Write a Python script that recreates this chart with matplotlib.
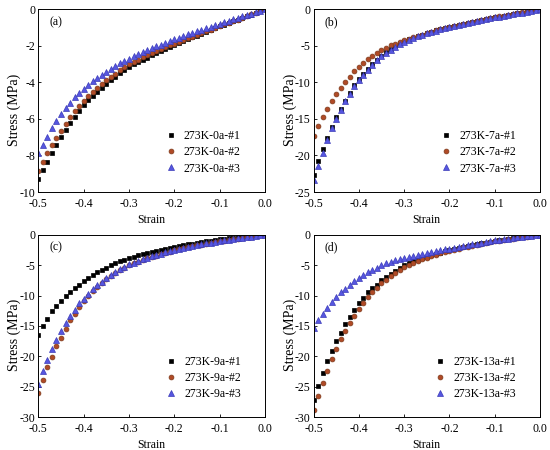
import matplotlib.pyplot as plt
import numpy as np

plt.rcParams['font.family'] = ['Liberation Serif', 'DejaVu Serif']
plt.rcParams['font.size'] = 8.5
plt.rcParams['axes.unicode_minus'] = False

# strain points, -0.50 ... 0.00 every 0.01
strain = np.round(np.arange(-50, 1) / 100.0, 2)

# (a) 273K-0a
a1 = [-9.3, -8.8, -8.34, -7.85, -7.41, -7.01, -6.6, -6.24, -5.88, -5.55,
      -5.26, -4.99, -4.74, -4.51, -4.29, -4.08, -3.88, -3.69, -3.5, -3.32,
      -3.14, -3.01, -2.88, -2.76, -2.64, -2.52, -2.4, -2.28, -2.17, -2.06,
      -1.95, -1.84, -1.74, -1.64, -1.54, -1.44, -1.34, -1.24, -1.14, -1.03,
      -0.93, -0.84, -0.75, -0.66, -0.57, -0.48, -0.38, -0.29, -0.19, -0.1, 0]
a2 = [-8.83, -8.34, -7.88, -7.45, -7.06, -6.66, -6.28, -5.91, -5.59, -5.29,
      -5.0, -4.75, -4.52, -4.3, -4.09, -3.89, -3.7, -3.52, -3.34, -3.17,
      -3.01, -2.88, -2.75, -2.63, -2.52, -2.41, -2.3, -2.19, -2.08, -1.98,
      -1.88, -1.78, -1.68, -1.58, -1.49, -1.39, -1.3, -1.2, -1.11, -1.01,
      -0.92, -0.83, -0.74, -0.65, -0.56, -0.47, -0.37, -0.28, -0.19, -0.09, 0]
a3 = [-7.88, -7.43, -6.97, -6.52, -6.12, -5.75, -5.42, -5.11, -4.82, -4.56,
      -4.38, -4.16, -3.95, -3.76, -3.58, -3.41, -3.25, -3.1, -2.96, -2.83,
      -2.7, -2.58, -2.46, -2.35, -2.24, -2.13, -2.03, -1.93, -1.83, -1.73,
      -1.64, -1.55, -1.46, -1.37, -1.28, -1.19, -1.11, -1.03, -0.95, -0.87,
      -0.79, -0.71, -0.63, -0.55, -0.47, -0.39, -0.31, -0.23, -0.15, -0.08, 0]

# (b) 273K-7a
b1 = [-22.7, -20.8, -19.1, -17.6, -16.1, -14.8, -13.6, -12.5, -11.5, -10.4,
      -9.5, -8.8, -8.1, -7.45, -6.9, -6.35, -5.85, -5.4, -5.0, -4.65,
      -4.35, -4.1, -3.87, -3.66, -3.46, -3.26, -3.07, -2.89, -2.72, -2.56,
      -2.4, -2.26, -2.12, -1.99, -1.86, -1.73, -1.6, -1.47, -1.35, -1.23,
      -1.1, -0.99, -0.88, -0.77, -0.66, -0.55, -0.44, -0.33, -0.22, -0.11, 0]
b2 = [-17.4, -15.9, -14.7, -13.6, -12.5, -11.6, -10.7, -9.9, -9.2, -8.5,
      -7.9, -7.35, -6.85, -6.4, -6.0, -5.6, -5.25, -4.95, -4.7, -4.45,
      -4.25, -4.04, -3.84, -3.64, -3.45, -3.26, -3.07, -2.89, -2.72, -2.56,
      -2.4, -2.25, -2.11, -1.98, -1.85, -1.72, -1.59, -1.46, -1.34, -1.22,
      -1.09, -0.98, -0.87, -0.76, -0.65, -0.54, -0.43, -0.32, -0.21, -0.11, 0]
b3 = [-23.4, -21.4, -19.6, -17.9, -16.3, -15.0, -13.8, -12.6, -11.6, -10.5,
      -9.7, -9.0, -8.3, -7.6, -7.0, -6.45, -5.95, -5.5, -5.1, -4.75,
      -4.45, -4.17, -3.92, -3.69, -3.48, -3.28, -3.09, -2.91, -2.74, -2.58,
      -2.43, -2.28, -2.14, -2.0, -1.87, -1.74, -1.61, -1.48, -1.36, -1.24,
      -1.12, -1.0, -0.89, -0.78, -0.67, -0.56, -0.45, -0.34, -0.23, -0.12, 0]

# (c) 273K-9a
c1 = [-16.4, -15.0, -13.8, -12.6, -11.8, -10.9, -10.1, -9.4, -8.8, -8.2,
      -7.6, -7.1, -6.6, -6.2, -5.8, -5.4, -5.05, -4.7, -4.4, -4.12,
      -3.85, -3.63, -3.42, -3.22, -3.03, -2.85, -2.67, -2.5, -2.33, -2.17,
      -2.0, -1.86, -1.72, -1.59, -1.46, -1.34, -1.22, -1.1, -0.99, -0.88,
      -0.78, -0.69, -0.61, -0.53, -0.45, -0.37, -0.29, -0.22, -0.14, -0.07, 0]
c2 = [-26.0, -23.8, -21.8, -20.1, -18.3, -16.9, -15.5, -14.1, -13.0, -11.9,
      -10.9, -10.1, -9.3, -8.6, -8.0, -7.3, -6.8, -6.3, -5.85, -5.4,
      -5.0, -4.7, -4.42, -4.15, -3.9, -3.66, -3.43, -3.21, -3.0, -2.8,
      -2.6, -2.42, -2.25, -2.09, -1.93, -1.78, -1.63, -1.49, -1.36, -1.23,
      -1.1, -0.98, -0.87, -0.76, -0.65, -0.54, -0.43, -0.32, -0.21, -0.11, 0]
c3 = [-24.5, -22.4, -20.6, -18.8, -17.3, -15.8, -14.5, -13.4, -12.3, -11.3,
      -10.5, -9.7, -8.9, -8.3, -7.7, -7.1, -6.6, -6.15, -5.7, -5.3,
      -4.9, -4.6, -4.32, -4.05, -3.8, -3.56, -3.33, -3.12, -2.91, -2.71,
      -2.52, -2.34, -2.17, -2.01, -1.86, -1.71, -1.57, -1.43, -1.3, -1.18,
      -1.06, -0.94, -0.83, -0.72, -0.62, -0.51, -0.41, -0.31, -0.2, -0.1, 0]

# (d) 273K-13a
d1 = [-27.1, -24.8, -22.7, -20.8, -19.1, -17.5, -16.1, -14.7, -13.5, -12.4,
      -11.3, -10.4, -9.5, -8.8, -8.2, -7.5, -6.95, -6.4, -5.9, -5.45,
      -5.0, -4.68, -4.38, -4.1, -3.84, -3.6, -3.37, -3.15, -2.94, -2.74,
      -2.55, -2.37, -2.2, -2.04, -1.88, -1.73, -1.58, -1.44, -1.31, -1.18,
      -1.06, -0.95, -0.84, -0.74, -0.63, -0.53, -0.42, -0.32, -0.21, -0.11, 0]
d2 = [-28.8, -26.5, -24.4, -22.4, -20.5, -18.7, -17.2, -15.8, -14.5, -13.3,
      -12.2, -11.2, -10.2, -9.4, -8.7, -8.0, -7.4, -6.85, -6.3, -5.8,
      -5.35, -4.98, -4.65, -4.34, -4.05, -3.78, -3.53, -3.29, -3.06, -2.85,
      -2.65, -2.46, -2.28, -2.11, -1.95, -1.79, -1.64, -1.5, -1.36, -1.23,
      -1.1, -0.98, -0.87, -0.76, -0.65, -0.54, -0.43, -0.32, -0.22, -0.11, 0]
d3 = [-15.4, -14.1, -13.0, -12.0, -11.0, -10.2, -9.5, -8.9, -8.2, -7.6,
      -7.1, -6.6, -6.1, -5.75, -5.4, -5.04, -4.7, -4.44, -4.2, -4.0,
      -3.78, -3.62, -3.46, -3.3, -3.15, -3.0, -2.85, -2.71, -2.57, -2.43,
      -2.3, -2.16, -2.02, -1.88, -1.74, -1.6, -1.47, -1.33, -1.2, -1.07,
      -0.94, -0.84, -0.75, -0.66, -0.57, -0.47, -0.38, -0.28, -0.19, -0.09, 0]

panels = [
    ('(a)', '0a', [a1, a2, a3], -10, 2),
    ('(b)', '7a', [b1, b2, b3], -25, 5),
    ('(c)', '9a', [c1, c2, c3], -30, 5),
    ('(d)', '13a', [d1, d2, d3], -30, 5),
]

styles = [
    dict(marker='s', ms=3.0, color='black', mec='black'),
    dict(marker='o', ms=3.5, color='#b04a26', mec='#7d3a1c'),
    dict(marker='^', ms=3.9, color='#5656e0', mec='#3c3cb8'),
]

fig = plt.figure(figsize=(5.5, 4.5), dpi=100)
lefts = [0.0697, 0.570, 0.0697, 0.570]
bottoms = [0.5733, 0.5733, 0.0726, 0.0726]

for i, (tag, name, series, ymin, ystep) in enumerate(panels):
    ax = fig.add_axes([lefts[i], bottoms[i], 0.412, 0.406])
    for j, ys in enumerate(series):
        ax.plot(strain, ys, ls='none', mew=0.5,
                label='273K-%s-#%d' % (name, j + 1), **styles[j])
    ax.set_xlim(-0.5, 0.0)
    ax.set_ylim(ymin, 0)
    ax.set_xticks(np.arange(-0.5, 0.01, 0.1))
    ax.set_xticklabels(['-0.5', '-0.4', '-0.3', '-0.2', '-0.1', '0.0'])
    ax.set_yticks(np.arange(ymin, 1, ystep))
    ax.tick_params(direction='in', length=2.5, width=0.6, labelsize=8.5)
    ax.tick_params(axis='x', pad=4)
    ax.tick_params(axis='y', pad=2)
    for s in ax.spines.values():
        s.set_linewidth(0.7)
    ax.set_xlabel('Strain', fontsize=8.5, labelpad=3)
    ax.set_ylabel('Stress (MPa)', fontsize=10)
    ax.yaxis.set_label_coords(-0.075, 0.45)
    ax.text(0.05, 0.93, tag, transform=ax.transAxes, fontsize=8.5,
            ha='left', va='center')
    ax.legend(loc='lower right', bbox_to_anchor=(0.93, 0.05), frameon=False,
              fontsize=8.5, handlelength=1.0, handletextpad=0.6,
              labelspacing=0.35, borderpad=0.2)

fig.savefig('out.png', dpi=100)
